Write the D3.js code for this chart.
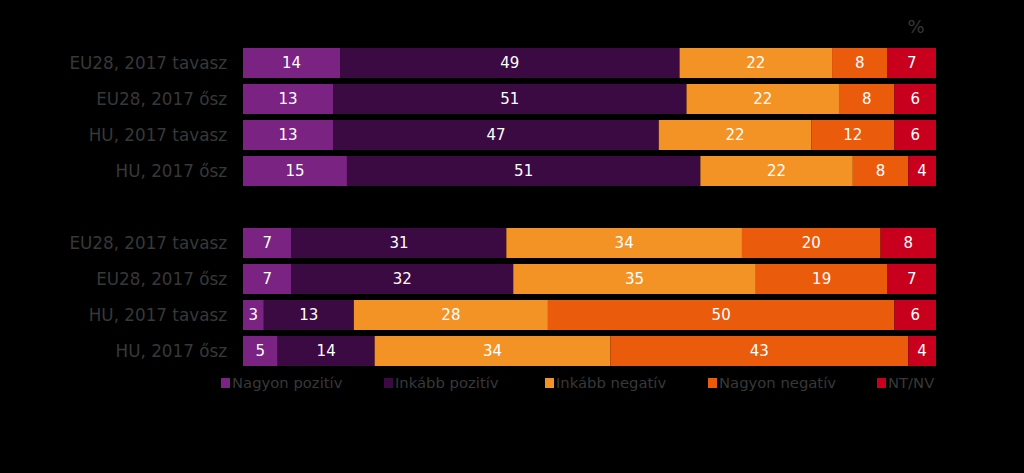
<!DOCTYPE html>
<html><head><meta charset="utf-8">
<script src="https://cdn.jsdelivr.net/npm/d3@7"></script>
<style>html,body{margin:0;padding:0;background:#000;}svg{display:block;}</style>
</head><body>
<svg id="c" width="1024" height="473"></svg>
<script>
const categories = ["EU28, 2017 tavasz","EU28, 2017 ősz","HU, 2017 tavasz","HU, 2017 ősz"];
const groups = ["A","B"];
const seriesNames = ["Nagyon pozitív","Inkább pozitív","Inkább negatív","Nagyon negatív","NT/NV"];
const seriesColors = ["#7b2383","#3b0a42","#f39325","#ea5b0c","#c8001e"];
const nagyonPozitiv = [14,13,13,15, 7,7,3,5];
const inkabbPozitiv = [49,51,47,51, 31,32,13,14];
const inkabbNegativ = [22,22,22,22, 34,35,28,34];
const nagyonNegativ = [8,8,12,8, 20,19,50,43];
const ntNv = [7,6,6,4, 8,7,6,4];
const unitLabel = "%";

const series = [nagyonPozitiv,inkabbPozitiv,inkabbNegativ,nagyonNegativ,ntNv];
const rows = [];
groups.forEach((g,gi)=>categories.forEach((c,ci)=>{
  const i = gi*categories.length+ci;
  rows.push({key:g+ci, label:c, values:series.map(s=>s[i])});
}));
const slotKeys = [...rows.slice(0,4).map(r=>r.key),"gap",...rows.slice(4).map(r=>r.key)];

const svg = d3.select("#c");
const x = d3.scaleLinear().domain([0,100]).range([243,936]);
const y = d3.scaleBand().domain(slotKeys).range([45,369]).paddingInner(6/36).paddingOuter(3/36);
const font = "'DejaVu Sans', Verdana, sans-serif";
const grey = "#383838";

rows.forEach(r=>{
  let acc = 0;
  const segs = r.values.map((v,i)=>{const s={x0:acc,x1:acc+v,v,i}; acc+=v; return s;});
  const g = svg.append("g");
  g.selectAll("rect").data(segs).join("rect")
    .attr("x",d=>x(d.x0)).attr("width",d=>x(d.x1)-x(d.x0))
    .attr("y",y(r.key)).attr("height",y.bandwidth())
    .attr("fill",d=>seriesColors[d.i]);
  g.selectAll("text").data(segs).join("text")
    .attr("x",d=>(x(d.x0)+x(d.x1))/2).attr("y",y(r.key)+y.bandwidth()/2)
    .attr("dy","0.36em").attr("text-anchor","middle")
    .attr("fill","#fff").attr("font-family",font).attr("font-size",15)
    .text(d=>d.v);
  svg.append("text").attr("x",227).attr("y",y(r.key)+y.bandwidth()/2).attr("dy","0.36em")
    .attr("text-anchor","end").attr("fill",grey).attr("font-family",font).attr("font-size",16.8)
    .text(r.label);
});

svg.append("text").attr("x",916).attr("y",33).attr("text-anchor","middle")
  .attr("fill",grey).attr("font-family",font).attr("font-size",18).text(unitLabel);

const legendX = [221,384,545,708,877];
const lg = svg.append("g").selectAll("g").data(seriesNames).join("g")
  .attr("transform",(d,i)=>`translate(${legendX[i]},383)`);
lg.append("rect").attr("x",0).attr("y",-5).attr("width",9).attr("height",10)
  .attr("fill",(d,i)=>seriesColors[i]);
lg.append("text").attr("x",11).attr("y",0).attr("dy","0.36em")
  .attr("fill",grey).attr("font-family",font).attr("font-size",14.8).text(d=>d);
</script>
</body></html>
